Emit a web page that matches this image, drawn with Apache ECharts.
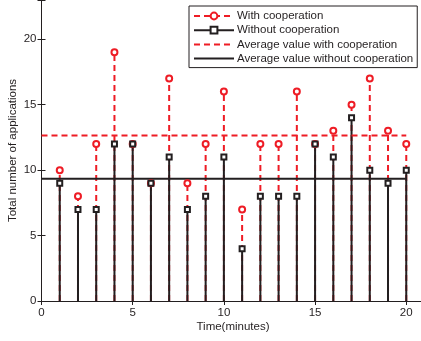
<!DOCTYPE html>
<html>
<head>
<meta charset="utf-8">
<script src="https://cdn.jsdelivr.net/npm/echarts@6/dist/echarts.min.js"></script>
<style>
  html, body { margin: 0; padding: 0; background: #fff; }
  #chart { width: 421px; height: 341px; }
</style>
</head>
<body>
<div id="chart"></div>
<script>
const minutes = [1, 2, 3, 4, 5, 6, 7, 8, 9, 10, 11, 12, 13, 14, 15, 16, 17, 18, 19, 20];
const withCoop = [10, 8, 12, 19, 12, 9, 17, 9, 12, 16, 7, 12, 12, 16, 12, 13, 15, 17, 13, 12];
const withoutCoop = [9, 7, 7, 12, 12, 9, 11, 7, 8, 11, 4, 8, 8, 8, 12, 11, 14, 10, 9, 10];
const avgWith = 12.65;
const avgWithout = 9.35;
const avgSpan = [0, 20];
const xTicks = [0, 5, 10, 15, 20];
const yTicks = [0, 5, 10, 15, 20];

const RED = '#ee1c25';
const BLACK = '#231f20';
const FONT = 'Liberation Sans, Arial, sans-serif';

const pairs = (xs, ys) => xs.map((x, i) => [x, ys[i]]);

const stem = (color, dash) => (params, api) => {
  const top = api.coord([api.value(0), api.value(1)]);
  const base = api.coord([api.value(0), 0]);
  return {
    type: 'line',
    shape: { x1: base[0], y1: base[1], x2: top[0], y2: top[1] },
    style: { stroke: color, lineWidth: 2, lineDash: dash }
  };
};

const chart = echarts.init(document.getElementById('chart'));

const option = {
  animation: false,
  grid: { left: 41.5, right: -3.5, top: 0, bottom: 40, outerBoundsMode: 'none', containLabel: false },
  legend: {
    orient: 'vertical',
    left: 189,
    top: 6,
    padding: [4, 4, 3, 4],
    itemGap: 2.2,
    itemWidth: 40,
    itemHeight: 8.5,
    backgroundColor: '#fff',
    borderColor: BLACK,
    borderWidth: 1,
    textStyle: { fontFamily: FONT, fontSize: 11.5, color: BLACK, padding: [0, 0, 0, -2] },
    data: [
      { name: 'With cooperation', lineStyle: { color: RED, width: 2, type: [6, 4], opacity: 1 } },
      { name: 'Without cooperation', lineStyle: { color: BLACK, width: 2, type: 'solid', opacity: 1 } },
      { name: 'Average value with cooperation', itemStyle: { opacity: 0 } },
      { name: 'Average value without cooperation', itemStyle: { opacity: 0 } }
    ]
  },
  xAxis: [{
    type: 'value', min: 0, max: 21, interval: 5,
    name: 'Time(minutes)', nameLocation: 'middle', nameGap: 20, nameMoveOverlap: false,
    nameTextStyle: { fontFamily: FONT, fontSize: 11.5, color: BLACK },
    axisLine: { lineStyle: { color: BLACK, width: 1 } },
    axisTick: { inside: true, length: 4, lineStyle: { color: BLACK } },
    axisLabel: { fontFamily: FONT, fontSize: 11.5, color: BLACK, margin: 6,
      formatter: v => xTicks.includes(v) ? String(v) : '' },
    splitLine: { show: false }
  }, {
    type: 'value', min: 0, max: 21, interval: 5, position: 'top',
    axisLine: { lineStyle: { color: BLACK, width: 1 } },
    axisTick: { inside: true, length: 4, lineStyle: { color: BLACK } },
    axisLabel: { show: false }, splitLine: { show: false }
  }],
  yAxis: [{
    type: 'value', min: 0, max: 23, interval: 5,
    name: 'Total number of applications', nameLocation: 'middle', nameGap: 23, nameMoveOverlap: false,
    nameTextStyle: { fontFamily: FONT, fontSize: 11.5, color: BLACK },
    axisLine: { show: true, lineStyle: { color: BLACK, width: 1 } },
    axisTick: { show: true, inside: true, length: 4, lineStyle: { color: BLACK } },
    axisLabel: { fontFamily: FONT, fontSize: 11.5, color: BLACK, margin: 5,
      formatter: v => yTicks.includes(v) ? String(v) : '' },
    splitLine: { show: false }
  }, {
    type: 'value', min: 0, max: 23, interval: 5, position: 'right',
    axisLine: { show: true, lineStyle: { color: BLACK, width: 1 } },
    axisTick: { show: true, inside: true, length: 4, lineStyle: { color: BLACK } },
    axisLabel: { show: false }, splitLine: { show: false }
  }],
  series: [
    {
      type: 'custom', name: 'redStem', silent: true, z: 2,
      renderItem: stem(RED, [6, 4]),
      data: pairs(minutes, withCoop)
    },
    {
      type: 'custom', name: 'blackStem', silent: true, z: 3,
      renderItem: stem(BLACK, null),
      data: pairs(minutes, withoutCoop)
    },
    {
      type: 'line', name: 'Average value with cooperation', z: 4,
      symbol: 'none',
      lineStyle: { color: RED, width: 2, type: [6, 4] },
      itemStyle: { color: RED },
      data: avgSpan.map(x => [x, avgWith])
    },
    {
      type: 'line', name: 'Average value without cooperation', z: 4,
      symbol: 'none',
      lineStyle: { color: BLACK, width: 2 },
      itemStyle: { color: BLACK },
      data: avgSpan.map(x => [x, avgWithout])
    },
    {
      type: 'line', name: 'With cooperation', z: 5,
      symbol: 'circle', symbolSize: 6,
      lineStyle: { opacity: 0 },
      itemStyle: { color: '#fff', borderColor: RED, borderWidth: 2 },
      data: pairs(minutes, withCoop)
    },
    {
      type: 'line', name: 'Without cooperation', z: 6,
      symbol: 'rect', symbolSize: 5,
      lineStyle: { opacity: 0 },
      itemStyle: { color: '#fff', borderColor: BLACK, borderWidth: 2 },
      data: pairs(minutes, withoutCoop)
    }
  ]
};

chart.setOption(option);
</script>
</body>
</html>
